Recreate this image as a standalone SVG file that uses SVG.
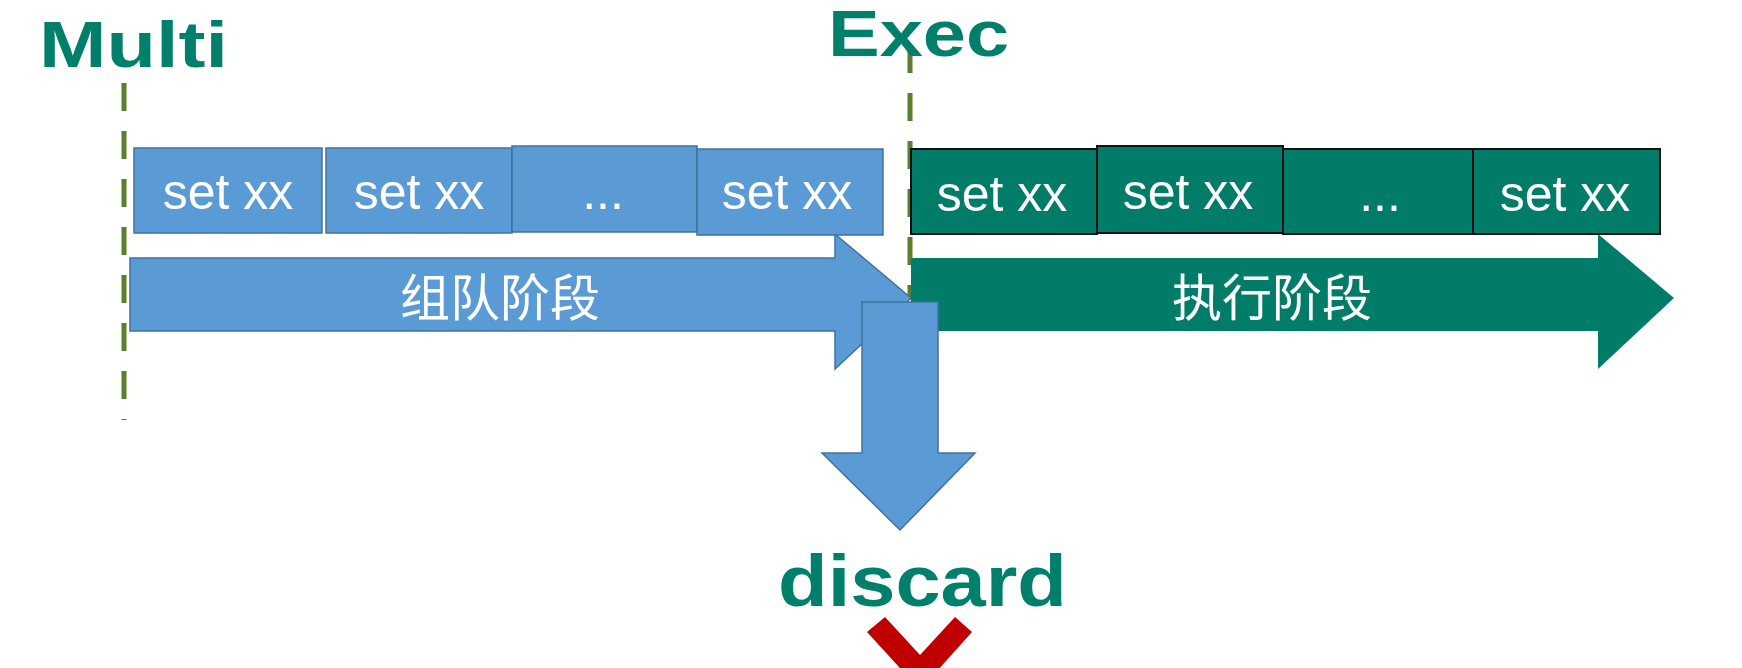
<svg xmlns="http://www.w3.org/2000/svg" width="1742" height="668" viewBox="0 0 1742 668">
<style>
.t{font-family:"Liberation Sans",Arial,sans-serif;font-weight:bold;fill:#00806a}
.b{fill:#5b9bd5;stroke:#41719c;stroke-width:1.5}
.g{fill:#007c68;stroke:#111;stroke-width:2}
.s{font-family:"Liberation Sans",Arial,sans-serif;font-size:50px;fill:#fff;text-anchor:middle}
.c{font-family:"Noto Sans CJK SC",sans-serif;font-size:50px;fill:#fff;text-anchor:middle}
.d{stroke:#5a7f2e;stroke-width:5;stroke-dasharray:28,20;fill:none}
</style>
<rect width="1742" height="668" fill="#fff"/>
<g id="connectors">
<line class="d" x1="124" y1="83" x2="124" y2="420"/>
<line class="d" x1="910" y1="45" x2="910" y2="300"/>
</g>
<g id="multi"><text class="t" x="39" y="67" font-size="64" textLength="189" lengthAdjust="spacingAndGlyphs">Multi</text></g>
<g id="exec"><text class="t" x="828" y="56" font-size="64" textLength="181" lengthAdjust="spacingAndGlyphs">Exec</text></g>
<g id="queue-arrow"><polygon class="b" stroke="none" points="130,258 835,258 835,234 911,298 835,369 835,331 130,331"/><text class="c" x="500" y="316">组队阶段</text></g>
<g id="exec-arrow"><polygon fill="#007c68" points="911,258 1598,258 1598,234 1674,298 1598,369 1598,331 911,331"/><text class="c" x="1272" y="316">执行阶段</text></g>
<g id="q1"><rect class="b" x="134" y="148" width="188" height="85"/><text class="s" x="228" y="209">set xx</text></g>
<g id="q2"><rect class="b" x="326" y="148" width="186" height="85"/><text class="s" x="419" y="209">set xx</text></g>
<g id="q3"><rect class="b" x="512" y="146" width="185" height="86"/><text class="s" x="603" y="209" font-size="34">...</text></g>
<g id="q4"><rect class="b" x="697" y="149" width="186" height="86"/><text class="s" x="787" y="209">set xx</text></g>
<g id="e1"><rect class="g" x="911" y="149" width="186" height="85"/><text class="s" x="1002" y="211">set xx</text></g>
<g id="e2"><rect class="g" x="1097" y="146" width="186" height="87"/><text class="s" x="1188" y="209">set xx</text></g>
<g id="e3"><rect class="g" x="1283" y="149" width="190" height="85"/><text class="s" x="1380" y="211" font-size="34">...</text></g>
<g id="e4"><rect class="g" x="1473" y="149" width="187" height="85"/><text class="s" x="1565" y="211">set xx</text></g>
<g id="discard-arrow"><polygon class="b" points="862,302 938,302 938,453 975,453 900,530 822,453 862,453"/></g>
<g id="discard"><text class="t" x="778" y="606" font-size="72" textLength="289" lengthAdjust="spacingAndGlyphs">discard</text></g>
<g id="mark"><polygon fill="#c00000" points="867,632 885,617 920,655 955,617 972,632 920,690"/></g>
</svg>
